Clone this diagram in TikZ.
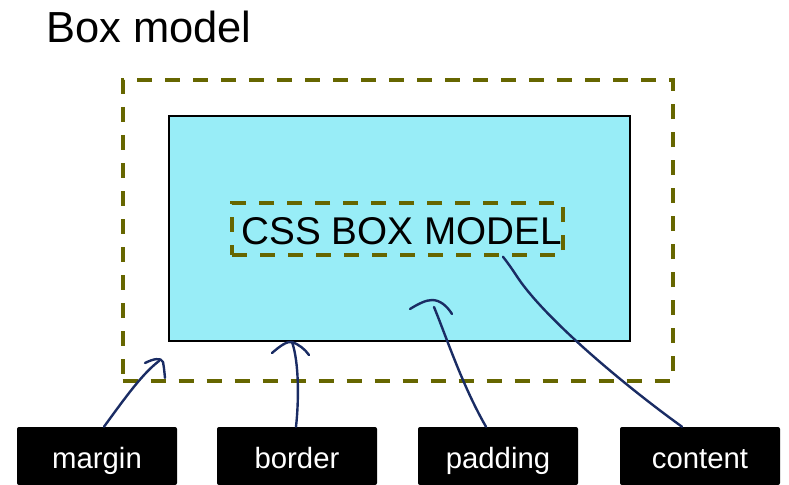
\documentclass[tikz,border=0pt]{standalone}
\usepackage{fontspec}
\setmainfont{Liberation Sans}
\definecolor{olivec}{RGB}{102,102,0}
\definecolor{cyanfill}{RGB}{152,237,247}
\definecolor{penc}{RGB}{26,44,100}
\begin{document}
\begin{tikzpicture}[x=0.75pt,y=-0.75pt,
  olivedash/.style={draw=olivec,line width=3pt,dash pattern=on 11.25pt off 9.75pt},
  labelbox/.style={fill=black,text=white,rounded corners=1.5pt,minimum width=120pt,minimum height=43.5pt,inner sep=0pt,text height=20pt,text depth=2pt,font=\fontsize{22}{26}\selectfont},
  pen/.style={draw=penc,line width=1.8pt,line cap=round,line join=round}]
\useasboundingbox (0,0) rectangle (789,485);
\node[anchor=base west,inner sep=0pt,font=\fontsize{32.6}{38}\selectfont] (title) at (46,43) {Box model};
\node[olivedash,minimum width=412.5pt,minimum height=225.75pt,inner sep=0pt] (outer) at (397.5,230.5) {};
\node[fill=cyanfill,draw=black,line width=1.5pt,minimum width=345.75pt,minimum height=169pt,inner sep=0pt] (bordr) at (399,228.25) {};
\node[olivedash,line width=2.6pt,minimum width=248.25pt,minimum height=39pt,inner sep=0pt] (inner) at (397.5,229) {};
\node[inner sep=0pt,font=\fontsize{29}{34}\selectfont] (css) at (401.5,231.5) {CSS BOX MODEL};
\node[labelbox] (mg) at (97,456) {margin};
\node[labelbox] (bd) at (297,456) {border};
\node[labelbox] (pd) at (498,456) {padding};
\node[labelbox] (ct) at (700,456) {content};
\coordinate (mgT) at (159,361);
\coordinate (bdT) at (292,342);
\coordinate (pdT) at (434,307);
% margin
\draw[pen] ([xshift=5.25pt]mg.north) .. controls (125,398) and (142,374) .. (mgT);
\draw[pen] (145,363) .. controls (153,359) and (161,357) .. (163,362) .. controls (164,368) .. (165,378);
% border
\draw[pen] ([xshift=-0.75pt]bd.north) .. controls (299,400) and (299,362) .. (bdT);
\draw[pen] (272,353) .. controls (280,346) and (287,341) .. (292,342) .. controls (298,344) and (305,349) .. (309,355);
% padding
\draw[pen] ([xshift=-9pt]pd.north) .. controls (462,385) and (446,336) .. (pdT);
\draw[pen] (410,309) .. controls (418,304) and (426,300) .. (432,300) .. controls (440,300) and (447,306) .. (452,314);
% content
\draw[pen] ([xshift=-13.5pt]ct.north) .. controls (620,382) and (545,318) .. (518,278) .. controls (510,266) .. ([xshift=79.1pt]inner.south);
\end{tikzpicture}
\end{document}
